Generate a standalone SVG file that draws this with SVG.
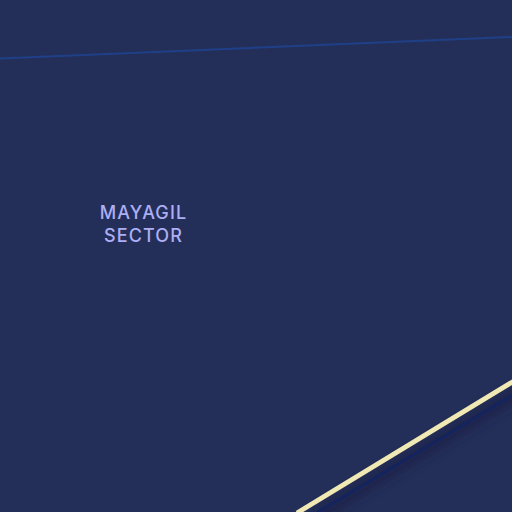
<svg xmlns="http://www.w3.org/2000/svg" width="512" height="512" viewBox="0 0 512 512">
<defs>
<filter id="blur" x="-20%" y="-40%" width="140%" height="180%"><feGaussianBlur stdDeviation="5"/></filter>
</defs>
<style>
.label{font-family:"Inter","Noto Sans",sans-serif;font-size:18px;letter-spacing:1.100px;fill:#adaef5;text-anchor:middle;font-weight:500}
</style>
<rect width="512" height="512" fill="#242f59"/>
<path d="M0 58.500L512 37" fill="none" stroke="#1f4088" stroke-width="2"/>
<path d="M320 514L520 392" fill="none" stroke="#1a2348" stroke-width="14" filter="url(#blur)" opacity="0.8"/>
<path d="M312 516L520 391" fill="none" stroke="#13245f" stroke-width="3"/>
<path d="M297 513L514 381" fill="none" stroke="#f0e9b4" stroke-width="4.800"/>
<text class="label" x="143.500" y="219">MAYAGIL</text>
<text class="label" x="143.500" y="241.500">SECTOR</text>
</svg>
